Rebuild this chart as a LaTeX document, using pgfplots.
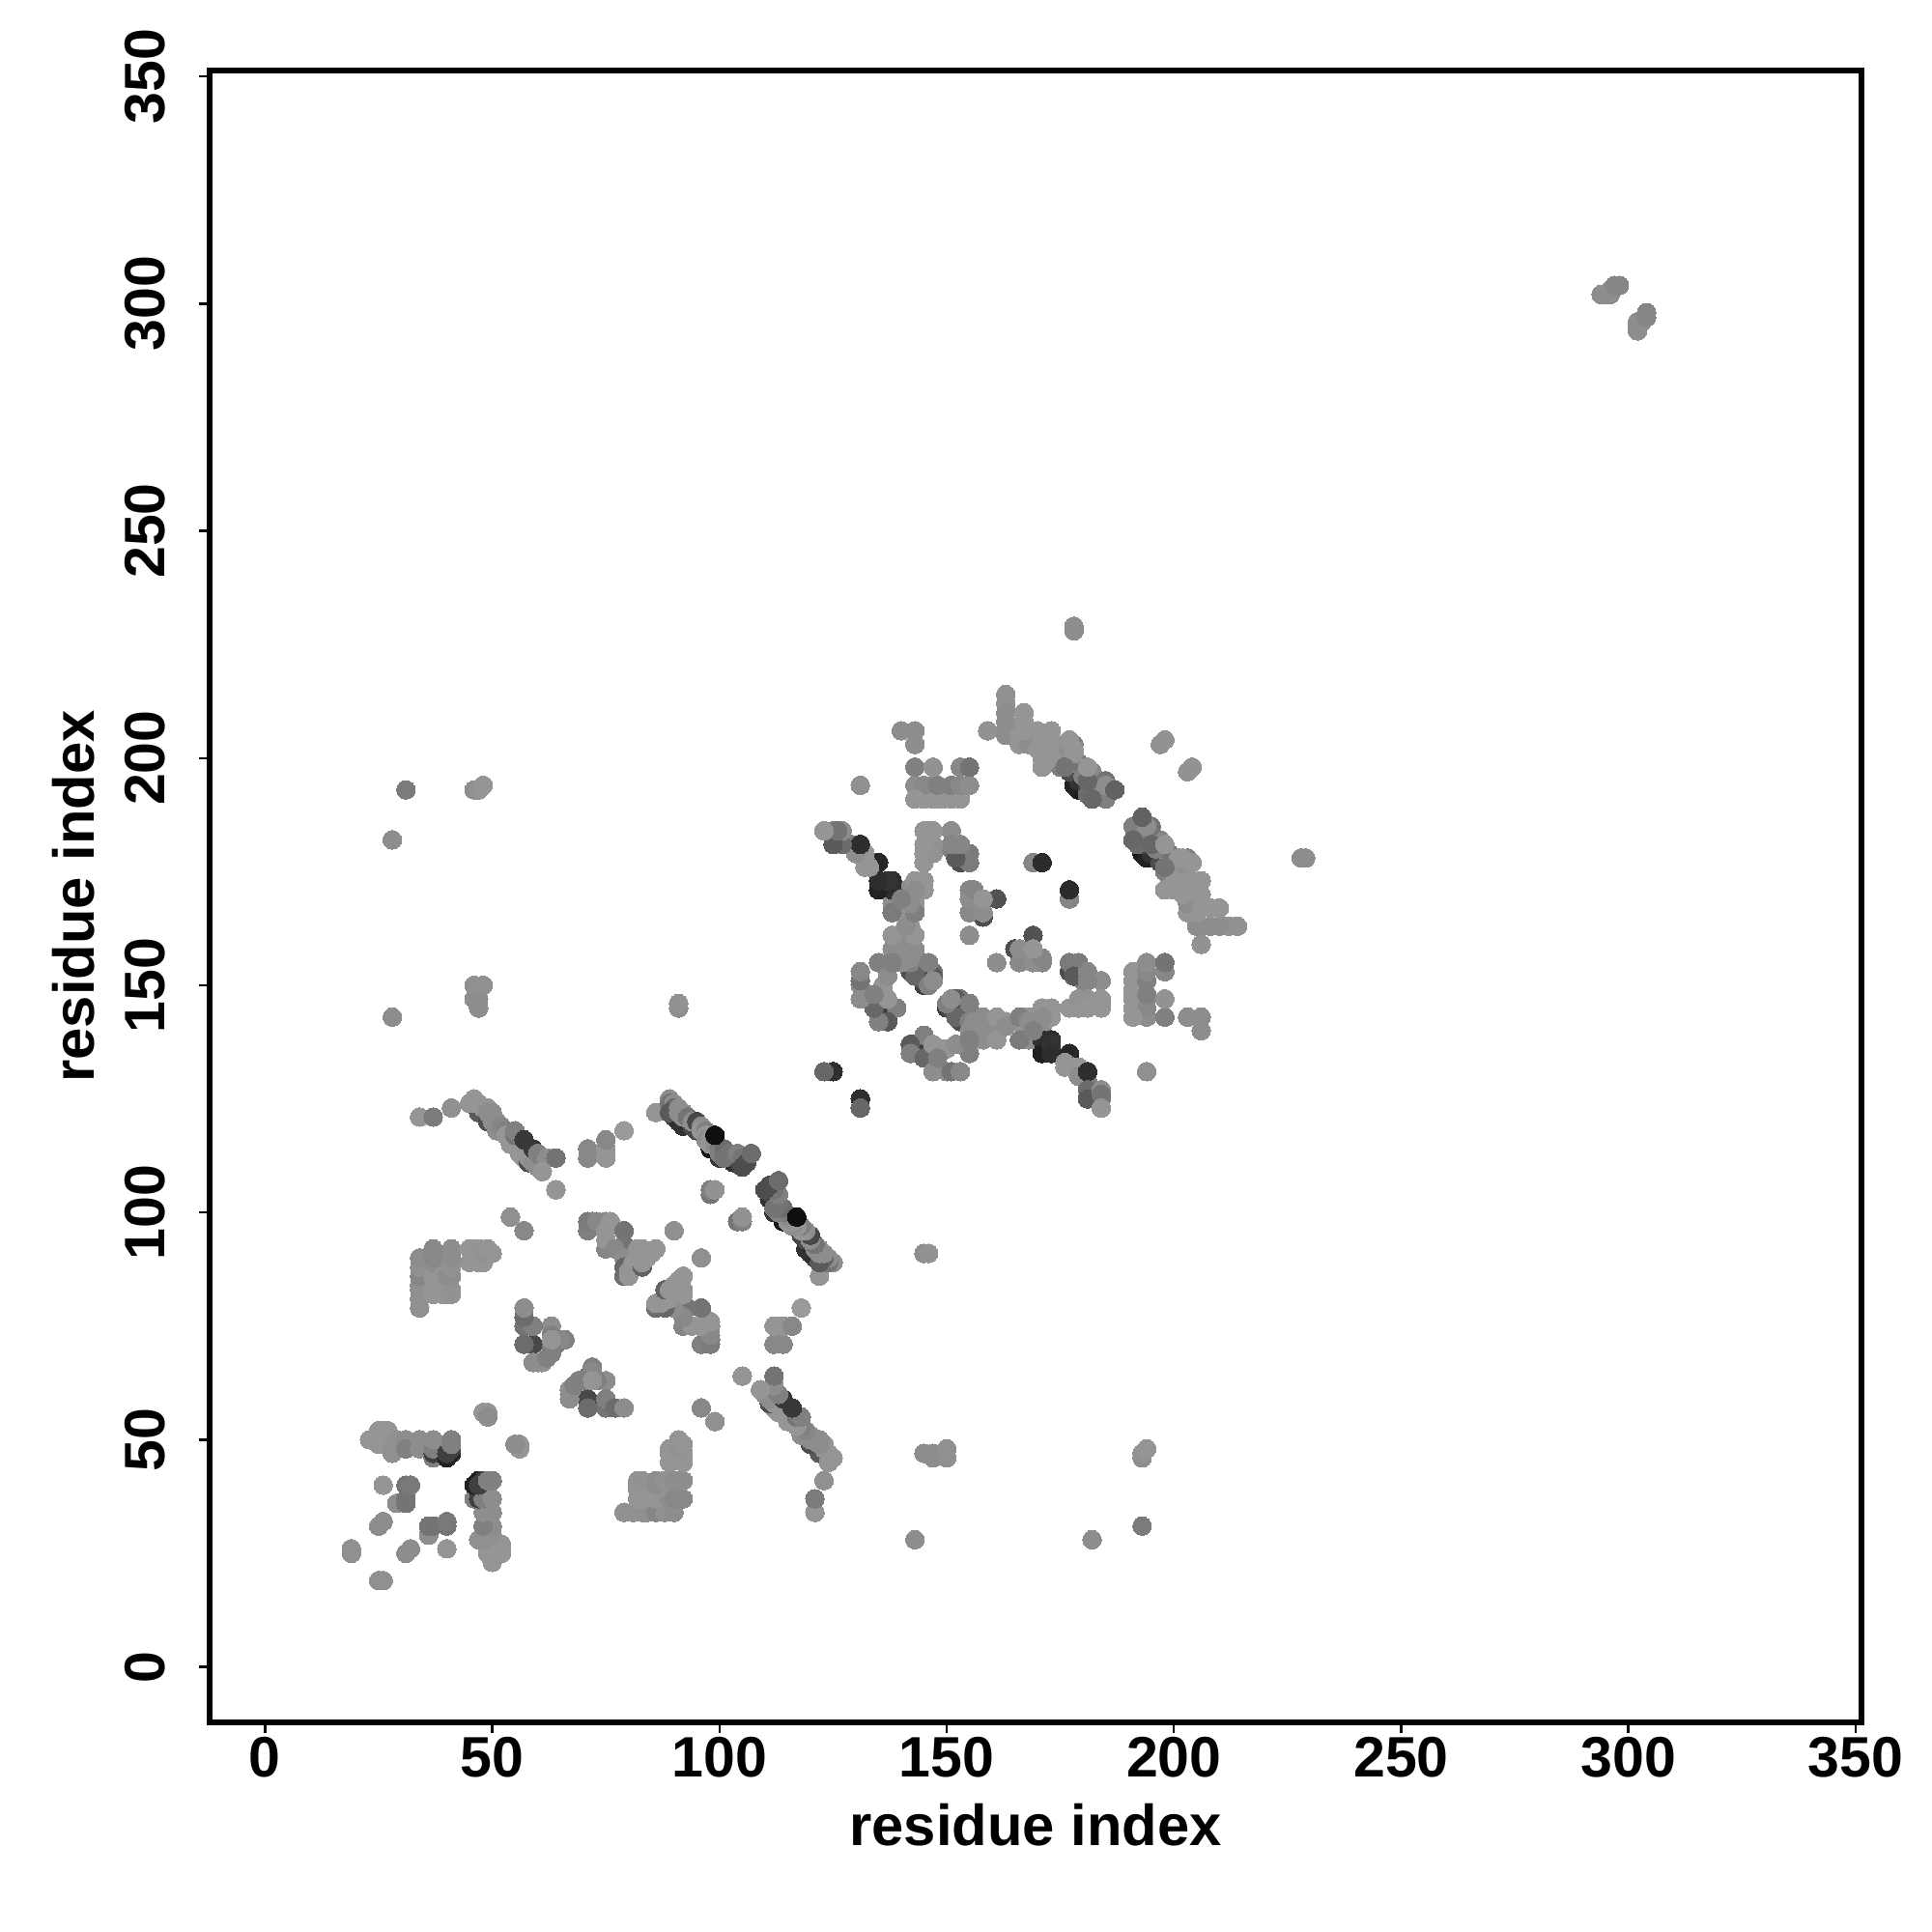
\documentclass[border=0pt]{standalone}
\usepackage{pgfplots}
\usepackage{pgfplotstable}
\usepackage{fontspec}
\setmainfont{Liberation Sans}
\pgfplotsset{compat=1.18}

% contact pairs, i<j, the map is symmetric; g is the grey level
\pgfplotstableread{
a b g
19 25 .56
19 26 .56
25 31 .55
26 32 .55
26 40 .58
29 36 .55
31 36 .45
31 37 .45
31 40 .45
32 40 .47
23 50 .58
25 49 .58
25 50 .58
25 52 .58
26 52 .58
27 52 .58
27 50 .58
28 50 .58
28 48 .56
28 47 .56
29 50 .56
31 50 .55
31 48 .5
34 48 .55
34 50 .55
37 46 .5
37 47 .25
37 48 .5
37 50 .55
41 47 .13
40 46 .13
40 47 .25
41 48 .25
41 49 .5
41 50 .5
48 56 .58
49 56 .58
49 55 .55
34 79 .56
34 81 .56
34 83 .56
34 84 .56
34 86 .52
34 88 .56
34 90 .55
37 82 .58
37 83 .58
37 86 .58
37 89 .55
37 90 .53
37 91 .53
37 92 .53
39 82 .58
39 86 .58
40 82 .58
40 86 .55
41 82 .57
41 83 .57
41 86 .55
41 88 .57
41 89 .57
41 90 .55
41 91 .55
41 92 .55
45 89 .58
45 92 .58
46 92 .58
47 89 .58
47 92 .58
48 89 .58
48 91 .57
49 92 .58
50 91 .58
28 143 .55
28 182 .55
31 193 .48
46 193 .55
47 193 .57
48 194 .58
47 145 .55
47 147 .55
46 147 .55
46 150 .56
48 150 .56
91 145 .55
91 146 .57
34 121 .58
37 121 .48
41 123 .56
47 122 .35
49 120 .3
50 121 .45
45 124 .58
46 125 .58
47 124 .58
48 123 .58
49 123 .58
49 122 .55
50 122 .55
50 120 .55
51 120 .55
51 118 .55
52 119 .52
53 118 .5
53 117 .58
54 116 .58
55 115 .58
56 114 .58
54 115 .58
56 113 .58
57 113 .58
57 112 .58
58 111 .3
58 112 .58
59 111 .55
60 110 .55
55 117 .45
55 118 .5
57 116 .22
59 114 .22
60 113 .5
61 112 .5
62 112 .55
64 112 .45
61 109 .58
64 105 .58
71 112 .53
71 114 .53
75 112 .58
75 114 .58
75 116 .53
79 118 .6
54 99 .56
57 96 .53
90 96 .56
71 96 .5
71 98 .48
72 98 .48
73 98 .53
75 98 .53
76 98 .58
75 96 .58
79 96 .45
75 92 .52
75 94 .58
79 92 .53
79 93 .45
77 92 .53
79 90 .55
79 88 .4
79 86 .42
80 86 .58
80 87 .58
81 89 .58
82 92 .58
83 92 .58
82 90 .58
83 88 .38
83 89 .58
84 90 .58
84 91 .58
85 91 .58
86 92 .58
57 79 .55
57 77 .5
57 75 .5
59 75 .42
57 71 .42
59 71 .28
63 75 .55
63 73 .5
63 72 .45
66 72 .5
64 71 .45
63 70 .5
63 69 .5
59 67 .56
60 67 .56
61 67 .56
62 68 .5
63 72 .5
65 72 .53
57 75 .45
59 75 .5
57 71 .42
57 77 .42
57 79 .55
63 70 .5
63 72 .58
59 67 .55
62 68 .5
98 104 .45
98 105 .5
99 105 .57
86 122 .58
90 121 .25
91 120 .18
92 119 .2
93 120 .15
94 119 .3
95 118 .28
98 114 .08
100 112 .2
102 112 .15
103 111 .18
104 111 .2
103 112 .25
89 125 .55
89 124 .45
90 124 .55
90 123 .4
89 122 .35
91 123 .55
91 122 .55
92 122 .55
92 121 .55
93 121 .45
94 120 .55
95 120 .28
96 119 .55
96 118 .58
97 118 .5
97 117 .58
97 116 .55
98 116 .58
98 115 .58
99 115 .55
100 114 .45
100 113 .5
101 114 .42
101 113 .42
101 112 .45
102 113 .45
104 113 .5
105 112 .45
105 110 .3
106 111 .3
107 113 .42
99 117 .06
}\contactsA
% second lot: domain 2 and the far pairs
\pgfplotstableread{
a b g
178 228 .55
178 229 .55
123 184 .6
125 181 .42
125 184 .5
127 182 .45
127 184 .5
129 181 .5
131 181 .2
130 179 .58
132 179 .58
132 176 .58
135 177 .18
135 173 .17
135 171 .14
137 171 .2
138 173 .22
125 131 .18
123 131 .4
131 194 .58
140 206 .58
143 206 .58
143 203 .5
143 198 .52
147 198 .57
153 198 .52
155 198 .5
143 194 .58
143 191 .58
145 194 .58
145 191 .58
147 194 .55
147 191 .58
149 191 .58
151 194 .5
151 191 .58
153 194 .5
153 191 .57
155 194 .58
146 184 .58
151 184 .58
146 181 .58
145 179 .58
147 180 .58
145 177 .55
151 180 .5
153 181 .48
155 179 .42
153 177 .3
155 177 .48
169 177 .52
171 177 .17
155 171 .52
155 169 .52
158 169 .52
161 169 .32
155 166 .52
158 165 .3
158 166 .45
155 161 .55
143 173 .6
145 171 .6
143 171 .55
143 166 .55
139 168 .55
138 166 .55
143 161 .58
139 161 .55
138 161 .58
141 163 .58
138 158 .58
141 158 .55
143 152 .3
144 153 .25
145 150 .25
142 153 .3
143 157 .42
145 155 .45
147 153 .45
140 155 .5
135 155 .5
131 153 .5
131 151 .48
131 150 .55
131 147 .55
137 152 .55
133 148 .55
136 149 .58
136 150 .55
137 147 .55
135 144 .52
139 145 .5
135 142 .5
137 143 .25
134 145 .45
134 148 .5
137 142 .5
138 155 .5
145 151 .3
147 152 .4
146 155 .55
142 156 .5
142 158 .55
142 161 .55
143 158 .55
142 163 .58
142 166 .58
143 168 .58
138 168 .58
141 171 .55
138 169 .55
145 173 .58
140 169 .55
155 166 .53
155 169 .55
156 171 .52
158 166 .55
158 169 .58
155 177 .48
155 179 .48
152 178 .35
153 181 .52
151 184 .55
151 181 .52
145 177 .58
147 179 .57
147 181 .57
147 184 .58
145 184 .58
145 181 .58
145 191 .58
148 191 .58
151 191 .58
153 191 .58
143 194 .55
145 194 .53
148 194 .5
151 194 .5
153 194 .53
155 194 .55
143 191 .58
143 198 .5
147 198 .57
153 198 .53
155 198 .45
143 203 .55
143 206 .55
140 206 .55
131 194 .56
138 171 .18
138 173 .18
135 171 .13
137 173 .2
135 173 .18
135 177 .15
133 176 .58
132 178 .58
130 179 .55
131 181 .18
127 181 .42
125 181 .35
127 184 .55
126 184 .45
123 184 .58
147 152 .35
145 151 .33
144 153 .3
143 152 .4
146 150 .5
147 151 .55
146 155 .5
142 155 .5
142 156 .55
142 158 .55
140 155 .55
138 158 .55
143 161 .58
138 161 .58
141 163 .55
143 166 .5
138 166 .48
142 168 .55
145 171 .58
143 173 .58
143 171 .55
140 169 .5
139 145 .5
137 142 .35
135 142 .5
134 145 .4
137 147 .58
131 147 .55
131 151 .45
131 153 .53
136 150 .58
135 155 .5
137 152 .55
134 148 .5
138 155 .5
179 193 .1
178 194 .13
179 195 .2
181 194 .25
177 197 .3
159 206 .57
163 214 .57
163 212 .57
163 210 .55
163 208 .55
163 206 .55
163 205 .55
166 205 .58
166 203 .58
167 210 .58
167 208 .58
168 205 .58
168 203 .55
170 206 .58
173 206 .58
171 203 .58
172 204 .58
170 202 .58
171 198 .5
174 203 .58
176 203 .57
178 203 .5
176 200 .55
175 198 .5
178 199 .58
179 199 .45
180 196 .5
182 197 .52
181 192 .42
183 193 .5
185 195 .45
185 191 .5
185 194 .55
187 193 .38
182 191 .4
181 195 .4
177 204 .58
173 204 .58
173 200 .58
171 200 .58
171 198 .58
178 201 .58
178 202 .58
176 198 .45
181 198 .58
167 206 .58
197 203 .57
198 204 .57
}\contactsB
\pgfplotstableread{
a b g
294 302 .55
295 302 .55
296 302 .55
296 303 .55
297 304 .52
298 304 .52
}\contactsC

\begin{document}
\begin{tikzpicture}
\path[use as bounding box] (-21.7mm,-21.7mm) rectangle (178.3mm,178.3mm);
\begin{axis}[
    scale only axis,
    width=171mm,
    height=171mm,
    xmin=-12.2, xmax=351.3,
    ymin=-12.2, ymax=351.3,
    xtick={0,50,...,350},
    ytick={0,50,...,350},
    xtick pos=bottom,
    ytick pos=left,
    tick align=outside,
    major tick length=3.1pt,
    tick style={line width=.7pt,black},
    axis line style={line width=1.6pt},
    /pgf/number format/assume math mode=true,
    ticklabel style={font=\fontsize{16.8}{20}\selectfont\bfseries},
    xticklabel style={anchor=base,yshift=-13pt},
    yticklabel style={rotate=90,anchor=base,yshift=10pt},
    label style={font=\fontsize{17}{20}\selectfont\bfseries},
    xlabel={residue index},
    ylabel={residue index},
    xlabel style={at={(axis description cs:0.5,0)},anchor=base,yshift=-36.4pt},
    ylabel style={at={(axis description cs:0,0.5)},anchor=base,yshift=33.9pt},
    colormap={greys}{gray(0cm)=(0); gray(1cm)=(1)},
    point meta min=0, point meta max=1,
    scatter/use mapped color={draw=mapped color,fill=mapped color},
    contacts/.style={scatter,only marks,mark=*,mark size=2.75pt,line width=0pt,point meta=explicit},
]
\addplot[contacts] table[x=b,y=a,meta=g] {\contactsA};
\addplot[contacts] table[x=b,y=a,meta=g] {\contactsB};
\addplot[contacts] table[x=b,y=a,meta=g] {\contactsC};
\addplot[contacts] table[x=a,y=b,meta=g] {\contactsA};
\addplot[contacts] table[x=a,y=b,meta=g] {\contactsB};
\addplot[contacts] table[x=a,y=b,meta=g] {\contactsC};
\end{axis}
\end{tikzpicture}
\end{document}
